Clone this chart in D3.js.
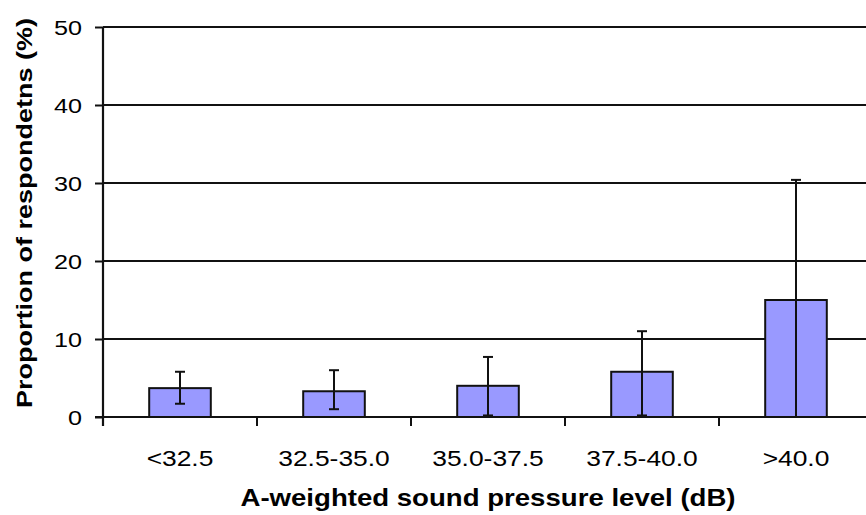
<!DOCTYPE html>
<html>
<head>
<meta charset="utf-8">
<script src="https://cdn.jsdelivr.net/npm/d3@7"></script>
<style>
  body { margin: 0; background: #fff; }
  text { font-family: "Liberation Sans", Arial, sans-serif; fill: #000; }
</style>
</head>
<body>
<script>
const categories = ["<32.5", "32.5-35.0", "35.0-37.5", "37.5-40.0", ">40.0"];
const values = [3.7, 3.3, 4.0, 5.8, 15.0];
const errLow = [1.7, 1.0, 0.2, 0.2, 0.0];
const errHigh = [5.8, 6.0, 7.7, 11.0, 30.4];
const yTicks = [0, 10, 20, 30, 40, 50];

let width = 866,
    height = 515;

const svg = d3.select('body').append('svg')
    .attr('width', width)
    .attr('height', height);

// scales
const x = d3.scaleBand()
    .domain(categories)
    .range([103, 873])
    .padding(0);

const y = d3.scaleLinear()
    .domain([0, 50])
    .range([417, 27]);

const barW = x.bandwidth() * 0.4;
const cx = c => x(c) + x.bandwidth() / 2;

// horizontal gridlines (behind bars)
svg.append('g')
    .selectAll('line')
    .data(yTicks.filter(d => d > 0))
    .enter()
    .append('line')
    .attr('x1', 103)
    .attr('x2', width)
    .attr('y1', d => y(d))
    .attr('y2', d => y(d))
    .attr('stroke', '#111')
    .attr('stroke-width', 2);

// y axis
const yAxis = svg.append('g')
    .attr('transform', 'translate(103,0)')
    .call(d3.axisLeft(y).tickValues(yTicks).tickSize(8).tickSizeOuter(0).tickFormat(d3.format('d')));
yAxis.select('.domain').remove();
yAxis.selectAll('.tick line').attr('stroke', '#111').attr('stroke-width', 2);
yAxis.selectAll('.tick text').remove();

yAxis.selectAll('.tick')
    .append('text')
    .attr('transform', 'translate(-21,0) scale(1.2,1)')
    .attr('dy', '0.36em')
    .attr('text-anchor', 'end')
    .style('font-size', '21px')
    .text(d => d);

// bars
const data = categories.map((c, i) => ({ c, v: values[i], lo: errLow[i], hi: errHigh[i] }));

svg.append('g')
    .selectAll('rect')
    .data(data)
    .enter()
    .append('rect')
    .attr('x', d => cx(d.c) - barW / 2)
    .attr('y', d => y(d.v))
    .attr('width', barW)
    .attr('height', d => y(0) - y(d.v))
    .attr('fill', '#9999ff')
    .attr('stroke', '#111')
    .attr('stroke-width', 2);

// error bars
const err = svg.append('g')
    .selectAll('g')
    .data(data)
    .enter()
    .append('g')
    .attr('stroke', '#111')
    .attr('stroke-width', 2);

err.append('line')
    .attr('x1', d => cx(d.c)).attr('x2', d => cx(d.c))
    .attr('y1', d => y(d.lo)).attr('y2', d => y(d.hi));
err.append('line')
    .attr('x1', d => cx(d.c) - 5).attr('x2', d => cx(d.c) + 5)
    .attr('y1', d => y(d.hi)).attr('y2', d => y(d.hi));
err.append('line')
    .attr('x1', d => cx(d.c) - 5).attr('x2', d => cx(d.c) + 5)
    .attr('y1', d => y(d.lo)).attr('y2', d => y(d.lo));

// x axis line + ticks between categories
svg.append('line')
    .attr('x1', 95).attr('x2', width)
    .attr('y1', y(0)).attr('y2', y(0))
    .attr('stroke', '#111').attr('stroke-width', 2);

svg.append('line')
    .attr('x1', 103).attr('x2', 103)
    .attr('y1', y(50)).attr('y2', y(0) + 9)
    .attr('stroke', '#111').attr('stroke-width', 2.2);

svg.append('g')
    .selectAll('line')
    .data(categories.slice(1))
    .enter()
    .append('line')
    .attr('x1', d => x(d)).attr('x2', d => x(d))
    .attr('y1', y(0)).attr('y2', y(0) + 9)
    .attr('stroke', '#111').attr('stroke-width', 2);

// x tick labels
svg.append('g')
    .selectAll('text')
    .data(categories)
    .enter()
    .append('text')
    .attr('transform', d => `translate(${cx(d)},466) scale(1.2,1)`)
    .attr('text-anchor', 'middle')
    .style('font-size', '22px')
    .text(d => d);

// axis titles
svg.append('text')
    .attr('transform', 'translate(488,506) scale(1.2,1)')
    .attr('text-anchor', 'middle')
    .style('font-size', '23px')
    .style('font-weight', 'bold')
    .text('A-weighted sound pressure level (dB)');

svg.append('text')
    .attr('transform', 'translate(32,213) rotate(-90) scale(1.2,1)')
    .attr('text-anchor', 'middle')
    .style('font-size', '22.5px')
    .style('font-weight', 'bold')
    .text('Proportion of respondetns (%)');
</script>
</body>
</html>
